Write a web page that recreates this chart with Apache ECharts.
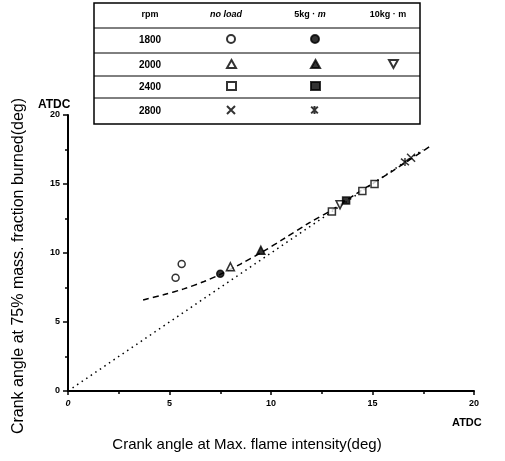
<!DOCTYPE html>
<html>
<head>
<meta charset="utf-8">
<script src="https://cdn.jsdelivr.net/npm/echarts@6/dist/echarts.min.js"></script>
<style>
  html, body { margin: 0; padding: 0; background: #fff; }
  #main { width: 505px; height: 461px; }
</style>
</head>
<body>
<div id="main"></div>
<script>
// data: [x, y] in degrees ATDC
const noLoad1800 = [[5.3, 8.2], [5.6, 9.2]];
const load5_1800 = [[7.5, 8.5]];
const noLoad2000 = [[8.0, 9.0]];
const load5_2000 = [[9.5, 10.2]];
const load10_2000 = [[13.4, 13.5]];
const noLoad2400 = [[13.0, 13.0], [14.5, 14.5], [15.1, 15.0]];
const load5_2400 = [[13.7, 13.8]];
const noLoad2800 = [[16.9, 16.9]];
const load5_2800 = [[16.6, 16.6]];
// fitted curve (dashed) and the 45 degree line (dotted)
const fitCurve = [[3.7, 6.6], [4.7, 6.97], [5.7, 7.4], [6.7, 7.93], [7.5, 8.45], [8.5, 9.2],
                  [9.6, 10.1], [10.6, 11.0], [11.9, 12.2], [13.1, 13.2], [14.2, 14.3],
                  [16.0, 15.95], [17.8, 17.7]];
const diagonal = [[0, 0], [17.5, 17.5]];

const rpmLabels = ["1800", "2000", "2400", "2800"];
const headers = ["rpm", "no load", "5kg · {i|m}", "10kg · m"];

const crossPath = "path://M0,0L10,10M10,0L0,10";
const starPath = "path://M0,0L10,10M10,0L0,10M5,-1L5,11";
const downTri = "path://M0,0L10,0L5,9Z";

var myChart = echarts.init(document.getElementById("main"));

function pts(name, data, symbol, filled, size) {
  return {
    name: name,
    type: "scatter",
    data: data,
    symbol: symbol,
    symbolSize: size || 7,
    itemStyle: {
      color: filled ? "#000" : "#fff",
      borderColor: "#000",
      borderWidth: 1.5
    },
    z: 5
  };
}

// table geometry
const tLeft = 94, tRight = 420;
const rowLines = [3, 28, 53, 76, 98, 124];
const rowMid = [15, 40, 65, 87, 111];
const colMid = [150, 226, 310, 388];

const cells = [
  ["1800 no load", 1, 1], ["1800 5kg", 1, 2],
  ["2000 no load", 2, 1], ["2000 5kg", 2, 2], ["2000 10kg", 2, 3],
  ["2400 no load", 3, 1], ["2400 5kg", 3, 2],
  ["2800 no load", 4, 1], ["2800 5kg", 4, 2]
];

const legends = cells.map(c => ({
  data: [c[0] === "2000 10kg" ? { name: c[0], icon: downTri } : c[0]],
  left: colMid[c[2]] - 5,
  top: rowMid[c[1]] - 11,
  itemWidth: 9,
  itemHeight: 8,
  formatter: () => "",
  selectedMode: false,
  textStyle: { fontSize: 1 }
}));

const graphics = [
  {
    type: "rect",
    shape: { x: tLeft, y: rowLines[0], width: tRight - tLeft, height: rowLines[5] - rowLines[0] },
    style: { fill: null, stroke: "#000", lineWidth: 1.5 }
  }
];
rowLines.slice(1, 5).forEach(y => {
  graphics.push({
    type: "line",
    shape: { x1: tLeft, y1: y, x2: tRight, y2: y },
    style: { stroke: "#000", lineWidth: 1 }
  });
});
headers.forEach((h, i) => {
  graphics.push({
    type: "text",
    x: colMid[i], y: rowMid[0],
    style: {
      text: h,
      align: "center", verticalAlign: "middle",
      font: (i === 1 ? "italic " : "") + "bold 9px 'Liberation Sans'",
      fill: "#000",
      rich: { i: { fontStyle: "italic", fontWeight: "bold", fontSize: 9, fontFamily: "Liberation Sans" } }
    }
  });
});
rpmLabels.forEach((r, i) => {
  graphics.push({
    type: "text",
    x: colMid[0], y: rowMid[i + 1],
    style: {
      text: r, align: "center", verticalAlign: "middle",
      font: "bold 10px 'Liberation Sans'", fill: "#000"
    }
  });
});
// unit labels
graphics.push({
  type: "text", left: 38, top: 99,
  style: { text: "ATDC", font: "bold 12px 'Liberation Sans'", fill: "#000" }
});
graphics.push({
  type: "text", left: 452, top: 417,
  style: { text: "ATDC", font: "bold 11px 'Liberation Sans'", fill: "#000" }
});

myChart.setOption({
  animation: false,
  backgroundColor: "#fff",
  textStyle: { fontFamily: "Liberation Sans", color: "#000" },
  grid: { left: 68, right: 31, top: 115, bottom: 70 },
  legend: legends,
  graphic: graphics,
  xAxis: {
    type: "value",
    min: 0, max: 20, interval: 5,
    name: "Crank angle at Max. flame intensity(deg)",
    nameLocation: "middle",
    nameGap: 46,
    nameTextStyle: { fontSize: 15, color: "#000", padding: [0, 48, 0, 0] },
    axisLine: { lineStyle: { color: "#000", width: 2 } },
    axisTick: { length: 4, lineStyle: { color: "#000", width: 1.5 } },
    minorTick: { show: true, splitNumber: 2, length: 3, lineStyle: { color: "#000", width: 1.5 } },
    axisLabel: {
      color: "#000", fontSize: 9, fontWeight: "bold", margin: 8,
      formatter: v => (v === 0 ? "{z|0}" : v),
      rich: { z: { fontStyle: "italic", fontWeight: "bold", fontSize: 9 } }
    },
    splitLine: { show: false }
  },
  yAxis: {
    type: "value",
    min: 0, max: 20, interval: 5,
    name: "Crank angle at 75% mass. fraction burned(deg)",
    nameLocation: "middle",
    nameGap: 41,
    nameTextStyle: { fontSize: 16, color: "#000", padding: [0, 26, 0, 0] },
    axisLine: { show: true, lineStyle: { color: "#000", width: 2 } },
    axisTick: { show: true, length: 5, lineStyle: { color: "#000", width: 1.5 } },
    minorTick: { show: true, splitNumber: 2, length: 3, lineStyle: { color: "#000", width: 1.5 } },
    axisLabel: { color: "#000", fontSize: 9, fontWeight: "bold", margin: 8 },
    splitLine: { show: false }
  },
  series: [
    {
      name: "45deg",
      type: "line",
      data: diagonal,
      symbol: "none",
      lineStyle: { color: "#000", width: 1.5, type: [1.5, 4] },
      z: 2
    },
    {
      name: "fit",
      type: "line",
      data: fitCurve,
      smooth: 0.3,
      symbol: "none",
      lineStyle: { color: "#000", width: 1.5, type: [6, 4] },
      z: 3
    },
    pts("1800 no load", noLoad1800, "circle", false, 7),
    pts("1800 5kg", load5_1800, "circle", true, 7),
    pts("2000 no load", noLoad2000, "triangle", false, 8),
    pts("2000 5kg", load5_2000, "triangle", true, 8),
    pts("2000 10kg", load10_2000, downTri, false, 8),
    pts("2400 no load", noLoad2400, "rect", false, 7),
    pts("2400 5kg", load5_2400, "rect", true, 7),
    pts("2800 no load", noLoad2800, crossPath, false, 8),
    pts("2800 5kg", load5_2800, starPath, true, 8)
  ]
});
</script>
</body>
</html>
